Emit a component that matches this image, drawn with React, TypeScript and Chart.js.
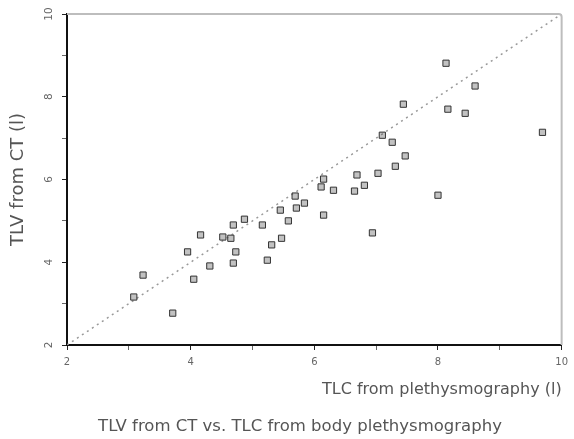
import React, { useEffect, useRef } from 'react';
import { Chart, registerables } from 'chart.js';

Chart.register(...registerables);

// TLC from body plethysmography (l)
const tlcPleth = [3.08, 3.23, 3.71, 3.95, 4.05, 4.16, 4.31, 4.52, 4.65, 4.69, 4.73, 4.69, 4.87, 5.16, 5.31, 5.24, 5.47, 5.45, 5.58, 5.69, 5.71, 5.84, 6.15, 6.15, 6.11, 6.31, 6.69, 6.65, 6.81, 7.03, 6.94, 7.31, 7.47, 7.26, 7.10, 7.44, 8.16, 8.44, 8.60, 8.13, 8.00, 9.69];
// TLV from CT (l)
const tlvCT = [3.16, 3.69, 2.77, 4.25, 3.59, 4.66, 3.91, 4.61, 4.58, 4.90, 4.25, 3.98, 5.04, 4.90, 4.42, 4.05, 4.58, 5.26, 5.00, 5.60, 5.31, 5.43, 5.14, 6.01, 5.82, 5.74, 6.11, 5.72, 5.86, 6.15, 4.71, 6.32, 6.57, 6.90, 7.07, 7.82, 7.70, 7.60, 8.26, 8.81, 5.62, 7.14];
// line of identity
const identity = [2, 10];
const axisMin = 2;
const axisMax = 10;

const xTitle = 'TLC from plethysmography (l)';
const yTitle = 'TLV from CT (l)';
const caption = 'TLV from CT vs. TLC from body plethysmography';

const FONT = '"DejaVu Sans", sans-serif';

const framePlugin = {
  id: 'frame',
  afterDraw(chart: any) {
    const { ctx, chartArea } = chart;
    const { left, right, top, bottom } = chartArea;
    ctx.save();
    ctx.strokeStyle = '#bdbdbd';
    ctx.lineWidth = 2;
    ctx.beginPath();
    ctx.moveTo(left, top);
    ctx.lineTo(right - 3, top);
    ctx.quadraticCurveTo(right, top, right, top + 3);
    ctx.lineTo(right, bottom);
    ctx.stroke();
    ctx.fillStyle = '#555';
    ctx.font = '16.5px ' + FONT;
    ctx.textAlign = 'center';
    ctx.textBaseline = 'middle';
    ctx.fillText(caption, 300, 427);
    ctx.restore();
  },
};

export default function App() {
  const ref = useRef<HTMLCanvasElement | null>(null);

  useEffect(() => {
    if (!ref.current) return;
    const tickColor = (c: any) => (c.tick && c.tick.value % 2 === 0 ? '#222' : '#666');
    const chart = new Chart(ref.current, {
      type: 'scatter',
      data: {
        datasets: [
          {
            label: 'points',
            data: tlcPleth.map((x, i) => ({ x, y: tlvCT[i] })),
            pointStyle: 'rect',
            pointRadius: 4.4,
            borderColor: '#333',
            borderWidth: 1,
            backgroundColor: 'rgba(80,80,80,0.35)',
            order: 0,
          },
          {
            label: 'identity',
            data: identity.map((v) => ({ x: v, y: v })),
            showLine: true,
            pointRadius: 0,
            borderColor: '#999',
            borderWidth: 1.5,
            borderDash: [2, 4],
            order: 1,
          },
        ],
      },
      options: {
        responsive: false,
        animation: false,
        layout: { padding: { left: 0, top: 14, right: 11, bottom: 0 } },
        plugins: { legend: { display: false }, tooltip: { enabled: false } },
        scales: {
          x: {
            type: 'linear',
            min: axisMin,
            max: axisMax,
            afterFit: (s: any) => { s.height = 94; },
            border: { display: true, color: '#111', width: 2 },
            grid: { drawOnChartArea: false, drawTicks: true, tickLength: 5, tickColor, tickWidth: 1 },
            ticks: {
              stepSize: 1,
              padding: 6,
              color: '#666',
              font: { family: FONT, size: 10 },
              maxRotation: 0,
              autoSkip: false,
              callback: (v: any) => (Number(v) % 2 === 0 ? String(v) : ''),
            },
            title: {
              display: true,
              text: xTitle,
              align: 'end',
              color: '#555',
              font: { family: FONT, size: 16 },
              padding: { top: 0, bottom: 40 },
            },
          },
          y: {
            type: 'linear',
            min: axisMin,
            max: axisMax,
            afterFit: (s: any) => { s.width = 67; },
            border: { display: true, color: '#111', width: 2 },
            grid: { drawOnChartArea: false, drawTicks: true, tickLength: 5, tickColor, tickWidth: 1 },
            ticks: {
              stepSize: 1,
              padding: 6,
              color: '#666',
              font: { family: FONT, size: 10.5 },
              minRotation: 90,
              maxRotation: 90,
              crossAlign: 'center',
              autoSkip: false,
              callback: (v: any) => (Number(v) % 2 === 0 ? String(v) : ''),
            },
            title: {
              display: true,
              text: yTitle,
              color: '#555',
              font: { family: FONT, size: 18 },
              padding: { top: 8, bottom: 0 },
            },
          },
        },
      },
      plugins: [framePlugin],
    } as any);
    return () => chart.destroy();
  }, []);

  return (
    <div style={{ position: 'fixed', left: 0, top: 0, width: 574, height: 439, background: '#fff' }}>
      <canvas ref={ref} width={574} height={439} />
    </div>
  );
}
